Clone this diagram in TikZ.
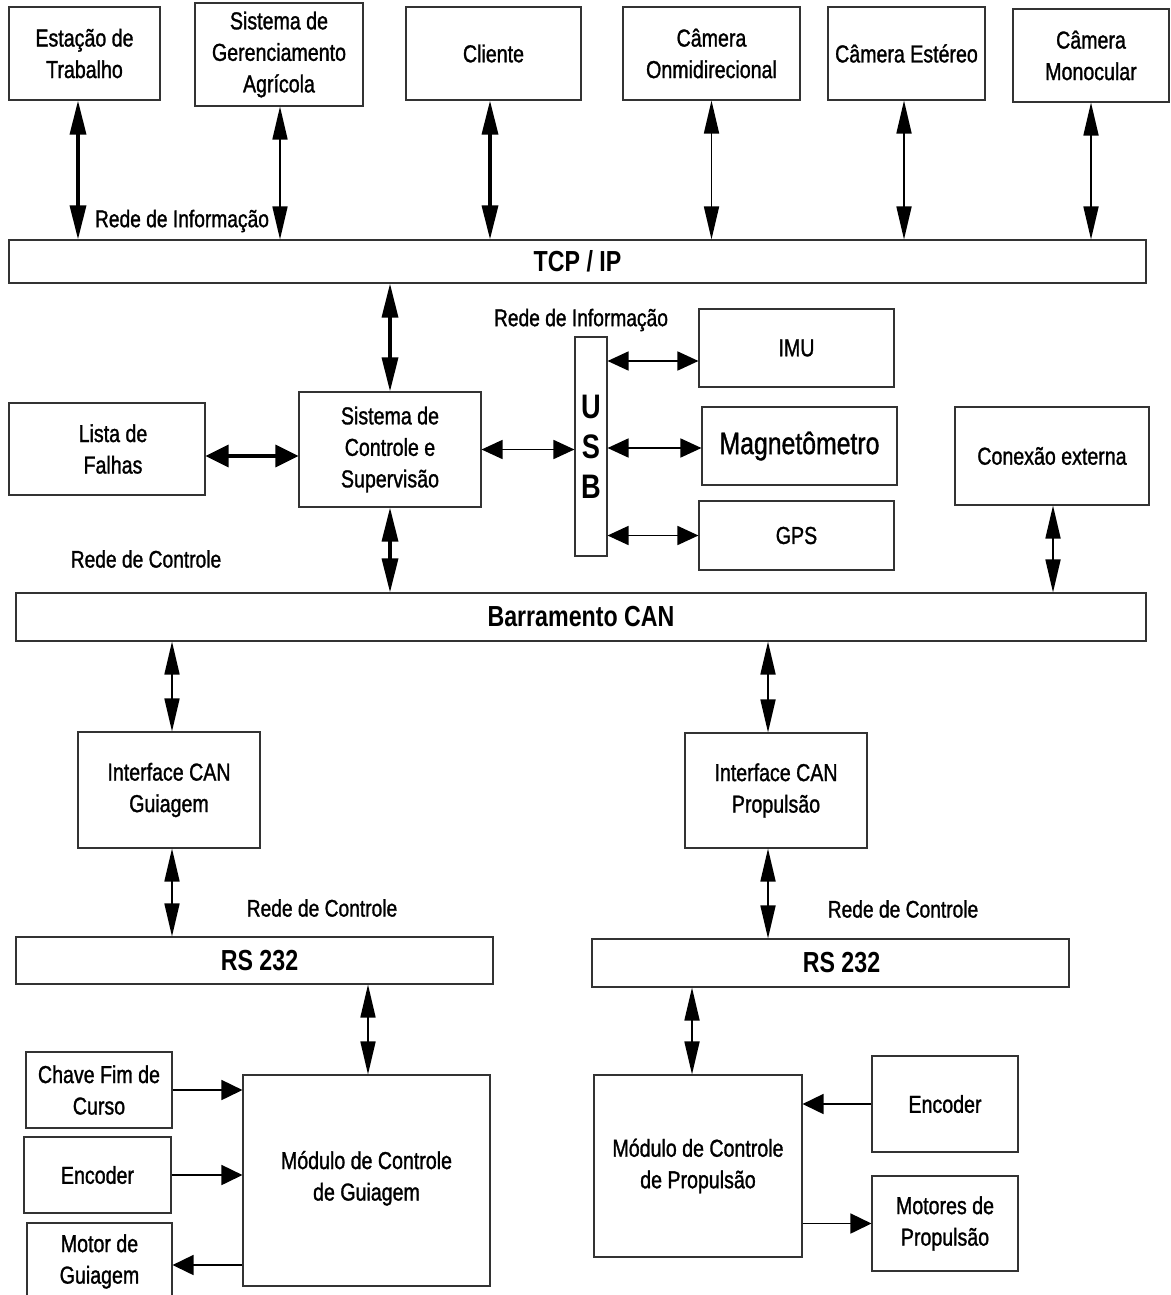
\documentclass[tikz,border=0pt]{standalone}
\usepackage{fontspec}
\setmainfont[FakeStretch=0.8, UprightFeatures={FakeBold=1.2}]{Liberation Sans}
\usetikzlibrary{arrows.meta,calc}

\begin{document}
\begin{tikzpicture}[x=1pt,y=-1pt,
  box/.style={draw=black!80, line width=1.1pt, fill=white, align=center,
    inner sep=0pt, font=\fontsize{24.5}{31.5}\selectfont},
  bar/.style={draw=black!80, line width=1.1pt, fill=white, inner sep=0pt,
    font=\bfseries\fontsize{29}{34}\selectfont},
  lbl/.style={inner sep=0pt, font=\fontsize{24}{28}\selectfont},
  vthin/.style={line width=1.7pt,
    {Triangle[length=33pt,width=15pt]}-{Triangle[length=33pt,width=15pt]}},
  vthick/.style={line width=3.4pt,
    {Triangle[length=34pt,width=16pt]}-{Triangle[length=34pt,width=16pt]}},
  hthin/.style={line width=1.7pt,
    {Triangle[length=21pt,width=19pt]}-{Triangle[length=21pt,width=19pt]}},
  hthick/.style={line width=3.4pt,
    {Triangle[length=23pt,width=22pt]}-{Triangle[length=23pt,width=22pt]}},
  hone/.style={line width=1.7pt, -{Triangle[length=21pt,width=20pt]}}
]
\useasboundingbox (0,0) rectangle (1170,1295);
\fill[white] (0,0) rectangle (1170,1295);

% information network devices
\node[box, minimum width=151pt, minimum height=93pt]  (est) at (84.5,53.5) {Estação de\\Trabalho};
\node[box, minimum width=168pt, minimum height=103pt] (sga) at (279,54.5) {Sistema de\\Gerenciamento\\Agrícola};
\node[box, minimum width=175pt, minimum height=93pt]  (cli) at (493.5,53.5) {Cliente};
\node[box, minimum width=177pt, minimum height=93pt]  (com) at (711.5,53.5) {Câmera\\Onmidirecional};
\node[box, minimum width=157pt, minimum height=93pt]  (ces) at (906.5,53.5) {Câmera Estéreo};
\node[box, minimum width=156pt, minimum height=93pt]  (cmo) at (1091,55.5) {Câmera\\Monocular};

\node[bar, minimum width=1137pt, minimum height=43pt] (tcp) at (577.5,261.5) {TCP / IP};
\node[lbl] (lri1) at (182,221) {Rede de Informação};

% supervision level
\node[box, minimum width=196pt, minimum height=92pt]  (lis) at (107,449) {\hspace*{12pt}Lista de\\\hspace*{12pt}Falhas};
\node[box, minimum width=182pt, minimum height=115pt] (sup) at (390,449.5) {Sistema de\\Controle e\\Supervisão};
\node[box, minimum width=32pt, minimum height=219pt,
  font=\bfseries\fontsize{34}{40}\selectfont] (usb) at (591,446.5) {U\\S\\B};
\node[lbl] (lri2) at (581,320) {Rede de Informação};
\node[box, minimum width=195pt, minimum height=78pt]  (imu) at (796.5,348) {IMU};
\node[box, minimum width=195pt, minimum height=78pt,
  font=\fontsize{31}{36}\selectfont] (mag) at (799.5,446) {Magnetômetro};
\node[box, minimum width=195pt, minimum height=69pt]  (gps) at (796.5,535.5) {GPS};
\node[box, minimum width=194pt, minimum height=98pt]  (ext) at (1052,456) {Conexão externa};

\node[lbl] (lrc1) at (146,559) {Rede de Controle};
\node[bar, minimum width=1130pt, minimum height=48pt] (can) at (581,617) {Barramento CAN};

% guidance branch
\node[box, minimum width=182pt, minimum height=116pt] (icg) at (169,790) {Interface CAN\\Guiagem};
\node[lbl] (lrc2) at (322,908) {Rede de Controle};
\node[bar, minimum width=477pt, minimum height=47pt] (rsg) at (254.5,960.5) {\hspace*{10pt}RS 232};
\node[box, minimum width=247pt, minimum height=211pt] (mcg) at (366.5,1180.5) {Módulo de Controle\\de Guiagem\\[-22pt]\mbox{}};
\node[box, minimum width=146pt, minimum height=76pt]  (cfc) at (99,1090) {Chave Fim de\\Curso};
\node[box, minimum width=147pt, minimum height=76pt]  (eng) at (97.5,1175) {Encoder};
\node[box, minimum width=145pt, minimum height=77pt]  (mtg) at (99.5,1261.5) {Motor de\\Guiagem};

% propulsion branch
\node[box, minimum width=182pt, minimum height=115pt] (icp) at (776,790.5) {Interface CAN\\Propulsão};
\node[lbl] (lrc3) at (903,909) {Rede de Controle};
\node[bar, minimum width=477pt, minimum height=48pt] (rsp) at (830.5,963) {\hspace*{22pt}RS 232};
\node[box, minimum width=208pt, minimum height=182pt] (mcp) at (698,1166) {Módulo de Controle\\de Propulsão};
\node[box, minimum width=146pt, minimum height=96pt]  (enp) at (945,1104) {Encoder};
\node[box, minimum width=146pt, minimum height=95pt]  (mtp) at (945,1223.5) {Motores de\\Propulsão};

% links to the TCP/IP network
\draw[vthick] ([xshift=-6.5pt]est.south) -- ([xshift=-6.5pt]est.south |- tcp.north);
\draw[vthin]  ([xshift=1pt]sga.south) -- ([xshift=1pt]sga.south |- tcp.north);
\draw[vthick] ([xshift=-3.5pt]cli.south) -- ([xshift=-3.5pt]cli.south |- tcp.north);
\draw[vthin]  (com.south) -- (com.south |- tcp.north);
\draw[vthin]  ([xshift=-2.5pt]ces.south) -- ([xshift=-2.5pt]ces.south |- tcp.north);
\draw[vthin]  (cmo.south) -- (cmo.south |- tcp.north);
\draw[vthick] (sup.north) -- (sup.north |- tcp.south);

% supervision links
\draw[hthick] ([yshift=-7pt]lis.east) -- ([yshift=-7pt]lis.east -| sup.west);
\draw[hthin]  (sup.east) -- (sup.east -| usb.west);
\draw[hthin]  ([yshift=-13pt]imu.west -| usb.east) -- ([yshift=-13pt]imu.west);
\draw[hthin]  ([yshift=-2pt]mag.west -| usb.east) -- ([yshift=-2pt]mag.west);
\draw[hthin]  (gps.west -| usb.east) -- (gps.west);

% links to the CAN bus
\draw[vthick] (sup.south) -- (sup.south |- can.north);
\draw[vthin]  ([xshift=1pt]ext.south) -- ([xshift=1pt]ext.south |- can.north);
\draw[vthin]  ([xshift=3pt]icg.north |- can.south) -- ([xshift=3pt]icg.north);
\draw[vthin]  ([xshift=-8pt]icp.north |- can.south) -- ([xshift=-8pt]icp.north);

% serial links
\draw[vthin]  ([xshift=3pt]icg.south) -- ([xshift=3pt]icg.south |- rsg.north);
\draw[vthin]  ([xshift=-8pt]icp.south) -- ([xshift=-8pt]icp.south |- rsp.north);
\draw[vthin]  ([xshift=1.5pt]mcg.north |- rsg.south) -- ([xshift=1.5pt]mcg.north);
\draw[vthin]  ([xshift=-6pt]mcp.north |- rsp.south) -- ([xshift=-6pt]mcp.north);

% sensors and actuators
\draw[hone] (cfc.east) -- (cfc.east -| mcg.west);
\draw[hone] (eng.east) -- (eng.east -| mcg.west);
\draw[hone] ([yshift=-3.5pt]mtg.east -| mcg.west) -- ([yshift=-3.5pt]mtg.east);
\draw[hone] (enp.west) -- (enp.west -| mcp.east);
\draw[hone] (mtp.west -| mcp.east) -- (mtp.west);
\end{tikzpicture}
\end{document}
